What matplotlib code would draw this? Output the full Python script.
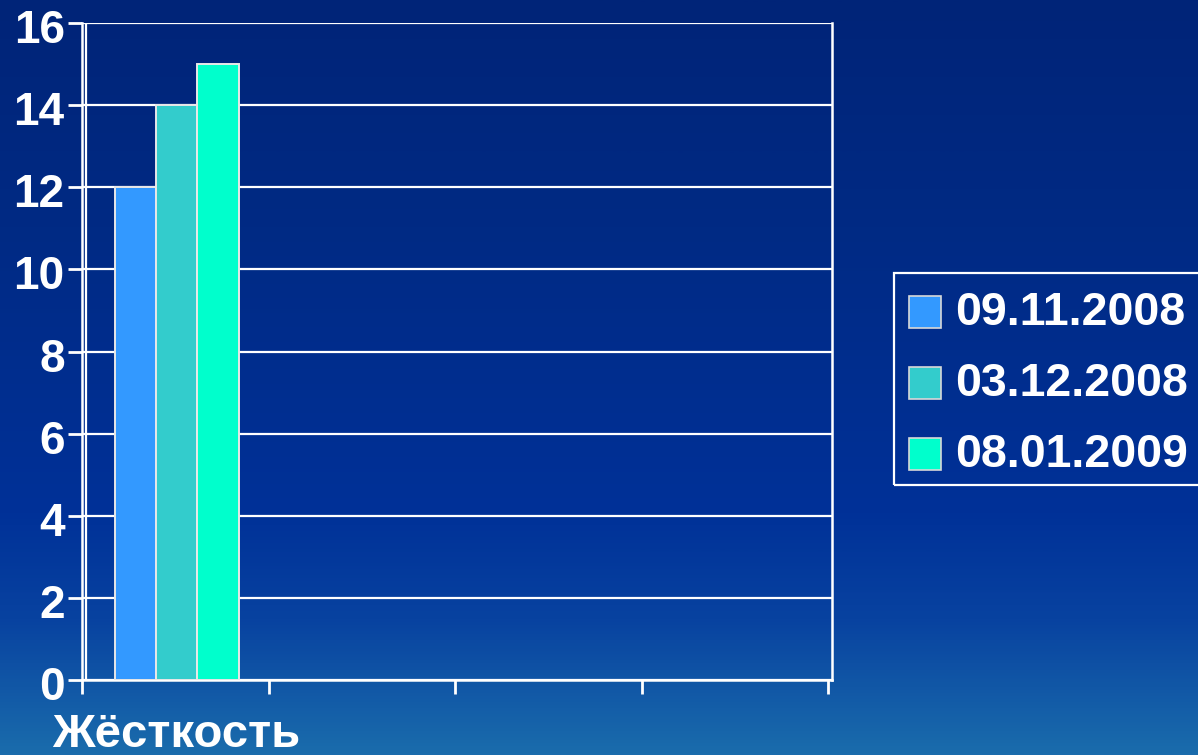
import numpy as np
import matplotlib
matplotlib.use("Agg")
import matplotlib.pyplot as plt
import matplotlib.transforms as mtransforms
from matplotlib.colors import LinearSegmentedColormap
from matplotlib.patches import Rectangle

# ---- data ----
categories = ["Жёсткость", "", "", ""]
series_names = ["09.11.2008", "03.12.2008", "08.01.2009"]
series_values = [
    [12, np.nan, np.nan, np.nan],
    [14, np.nan, np.nan, np.nan],
    [15, np.nan, np.nan, np.nan],
]
series_colors = ["#3399FF", "#33CCCC", "#00FFCC"]
yticks = [0, 2, 4, 6, 8, 10, 12, 14, 16]

W, H = 1198, 755
fig = plt.figure(figsize=(W / 100, H / 100), dpi=100)

# ---- background gradient ----
bg = fig.add_axes([0, 0, 1, 1], zorder=-10)
bg.set_axis_off()
stops = [
    (0.0, (0 / 255, 36 / 255, 120 / 255)),
    (0.30, (0 / 255, 42 / 255, 132 / 255)),
    (0.68, (0 / 255, 49 / 255, 152 / 255)),
    (0.82, (8 / 255, 66 / 255, 160 / 255)),
    (1.0, (26 / 255, 108 / 255, 172 / 255)),
]
cmap = LinearSegmentedColormap.from_list("bg", stops)
grad = np.linspace(0, 1, 512).reshape(-1, 1)
bg.imshow(grad, aspect="auto", cmap=cmap, extent=[0, 1, 1, 0])
bg.set_xlim(0, 1)
bg.set_ylim(1, 0)

# ---- main axes ----
px_per_unit = 186.5
x_left, x_right = 82, 832
y_top, y_bot = 23, 680
ax = fig.add_axes([x_left / W, (H - y_bot) / H, (x_right - x_left) / W, (y_bot - y_top) / H])
ax.set_facecolor("none")
xmax = (x_right - x_left) / px_per_unit
ax.set_xlim(0, xmax)
ax.set_ylim(0, 16)

n = len(series_names)
bw = 0.222
center = np.arange(len(categories)) + 0.508
for i, (name, vals, col) in enumerate(zip(series_names, series_values, series_colors)):
    ax.bar(center + (i - (n - 1) / 2) * bw, vals, width=bw, color=col,
           edgecolor="#E8E8E8", linewidth=1.4, zorder=3, label=name)

ax.set_yticks(yticks)
ax.set_yticklabels([str(v) for v in yticks])
ax.set_xticks(np.arange(len(categories) + 1))
ax.set_xticklabels([])
ax.set_xticks(center, minor=True)
ax.set_xticklabels(categories, minor=True)
ax.tick_params(axis="x", which="minor", length=0, pad=23.5)
ax.tick_params(axis="x", which="major", length=10, width=2, color="white", direction="out")
ax.tick_params(axis="y", length=10, width=2, color="white", direction="out", pad=2.5)

shift_down = mtransforms.ScaledTranslation(0, -3 / 100, fig.dpi_scale_trans)
for lab in ax.get_yticklabels():
    lab.set_fontsize(33)
    lab.set_fontweight("bold")
    lab.set_color("white")
    lab.set_family("Liberation Sans")
    lab.set_transform(lab.get_transform() + shift_down)
for lab in ax.get_xticklabels(minor=True):
    lab.set_fontsize(34)
    lab.set_fontweight("bold")
    lab.set_color("white")
    lab.set_family("Liberation Sans")

ax.yaxis.grid(True, color="white", linewidth=1.6, zorder=1)
ax.set_axisbelow(True)
for s in ["left", "bottom", "right"]:
    ax.spines[s].set_color("white")
    ax.spines[s].set_linewidth(1.8)
ax.spines["top"].set_visible(False)
ax.axvline(4 / px_per_unit, color="white", linewidth=1.6, zorder=2)

# ---- legend (manual, pixel coordinates) ----
def fx(x):
    return x / W

def fy(y):
    return (H - y) / H

fig.patches.append(Rectangle((fx(894), fy(485)), fx(1210) - fx(894), fy(273) - fy(485),
                             transform=fig.transFigure, fill=False, edgecolor="white",
                             linewidth=1.6, zorder=5))
row_y = [312, 383, 454]
for name, col, yy in zip(series_names, series_colors, row_y):
    fig.patches.append(Rectangle((fx(909), fy(yy + 16)), fx(941) - fx(909), fy(yy - 16) - fy(yy + 16),
                                 transform=fig.transFigure, facecolor=col,
                                 edgecolor="#D8D8D8", linewidth=1.2, zorder=6))
    fig.text(fx(955), fy(yy + 1), name, fontsize=33.5, fontweight="bold", color="white",
             family="Liberation Sans", va="center", ha="left")

fig.savefig("out.png", dpi=100)
